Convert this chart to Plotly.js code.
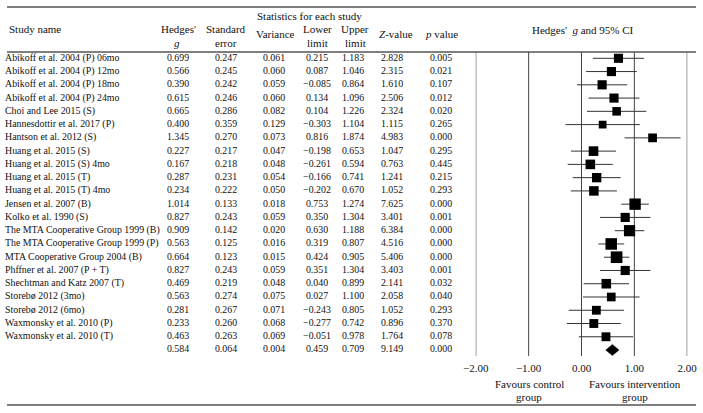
<!DOCTYPE html>
<html><head><meta charset="utf-8">
<script src="https://cdn.plot.ly/plotly-3.0.1.min.js"></script>
<style>html,body{margin:0;padding:0;background:#fff}</style>
</head><body><div id="chart" style="width:703px;height:413px"></div>
<script>
const studies = ["Abikoff et al. 2004 (P) 06mo","Abikoff et al. 2004 (P) 12mo","Abikoff et al. 2004 (P) 18mo","Abikoff et al. 2004 (P) 24mo","Choi and Lee 2015 (S)","Hannesdottir et al. 2017 (P)","Hantson et al. 2012 (S)","Huang et al. 2015 (S)","Huang et al. 2015 (S) 4mo","Huang et al. 2015 (T)","Huang et al. 2015 (T) 4mo","Jensen et al. 2007 (B)","Kolko et al. 1990 (S)","The MTA Cooperative Group 1999 (B)","The MTA Cooperative Group 1999 (P)","MTA Cooperative Group 2004 (B)","Phffner et al. 2007 (P + T)","Shechtman and Katz 2007 (T)","Storebø 2012 (3mo)","Storebø 2012 (6mo)","Waxmonsky et al. 2010 (P)","Waxmonsky et al. 2010 (T)"];
const hedgesG = [0.699,0.566,0.390,0.615,0.665,0.400,1.345,0.227,0.167,0.287,0.234,1.014,0.827,0.909,0.563,0.664,0.827,0.469,0.563,0.281,0.233,0.463];
const stdErr = [0.247,0.245,0.242,0.246,0.286,0.359,0.270,0.217,0.218,0.231,0.222,0.133,0.243,0.142,0.125,0.123,0.243,0.219,0.274,0.267,0.260,0.263];
const variance = [0.061,0.060,0.059,0.060,0.082,0.129,0.073,0.047,0.048,0.054,0.050,0.018,0.059,0.020,0.016,0.015,0.059,0.048,0.075,0.071,0.068,0.069];
const lowerLim = [0.215,0.087,-0.085,0.134,0.104,-0.303,0.816,-0.198,-0.261,-0.166,-0.202,0.753,0.350,0.630,0.319,0.424,0.351,0.040,0.027,-0.243,-0.277,-0.051];
const upperLim = [1.183,1.046,0.864,1.096,1.226,1.104,1.874,0.653,0.594,0.741,0.670,1.274,1.304,1.188,0.807,0.905,1.304,0.899,1.100,0.805,0.742,0.978];
const zValue = [2.828,2.315,1.610,2.506,2.324,1.115,4.983,1.047,0.763,1.241,1.052,7.625,3.401,6.384,4.516,5.406,3.403,2.141,2.058,1.052,0.896,1.764];
const pValue = [0.005,0.021,0.107,0.012,0.020,0.265,0.000,0.295,0.445,0.215,0.293,0.000,0.001,0.000,0.000,0.000,0.001,0.032,0.040,0.293,0.370,0.078];
const summary = {g:0.584, se:0.064, variance:0.004, lower:0.459, upper:0.709, z:9.149, p:0.000};
const axisTicks = [-2,-1,0,1,2];

const FONT = "Liberation Serif, Times New Roman, serif";
const W = 703, H = 413;
const n = studies.length;
const rows = studies.map((_, i) => i);
const sumRow = n;

function fmt(v){ return v.toFixed(3).replace('-', '\u2212'); }

// column centres in pixel units (x2 axis spans 0..703)
const cols = [
  {x:178, vals:hedgesG, s:summary.g},
  {x:226, vals:stdErr, s:summary.se},
  {x:274, vals:variance, s:summary.variance},
  {x:317, vals:lowerLim, s:summary.lower},
  {x:353, vals:upperLim, s:summary.upper},
  {x:392, vals:zValue, s:summary.z},
  {x:441, vals:pValue, s:summary.p}
];

const BODY = 9.9;
const HEAD = 11;
const traces = [];
traces.push({
  type:'scatter', mode:'text', xaxis:'x2', yaxis:'y2',
  x: rows.map(() => 5), y: rows, text: studies,
  textposition:'middle right', cliponaxis:false, hoverinfo:'skip',
  textfont:{family:FONT, size:BODY, color:'#111'}
});
cols.forEach(c => {
  traces.push({
    type:'scatter', mode:'text', xaxis:'x2', yaxis:'y2',
    x: rows.concat([sumRow]).map(() => c.x),
    y: rows.concat([sumRow]),
    text: c.vals.map(fmt).concat([fmt(c.s)]),
    textposition:'middle center', cliponaxis:false, hoverinfo:'skip',
    textfont:{family:FONT, size:BODY, color:'#111'}
  });
});

const tau2 = 0.05;
const sizes = variance.map(v => 5.5 + 0.4 / (v + tau2));

traces.push({
  type:'scatter', mode:'markers', xaxis:'x', yaxis:'y2',
  x: hedgesG, y: rows,
  marker:{symbol:'square', size:sizes, color:'#000', opacity:1, line:{width:0}},
  error_x:{type:'data', symmetric:false,
    array: upperLim.map((u,i) => u - hedgesG[i]),
    arrayminus: lowerLim.map((l,i) => hedgesG[i] - l),
    width:0, thickness:1, color:'#333'},
  hoverinfo:'skip', cliponaxis:false
});
const dh = 0.42;
traces.push({
  type:'scatter', mode:'lines', xaxis:'x', yaxis:'y2',
  x:[summary.lower, summary.g, summary.upper, summary.g, summary.lower],
  y:[sumRow, sumRow - dh, sumRow, sumRow + dh, sumRow],
  fill:'toself', fillcolor:'#000', line:{width:0.5, color:'#000'},
  hoverinfo:'skip', cliponaxis:false
});

const py = p => 1 - p / H;
const px = p => p / W;
const ann = (text, x, y, size, opts) => Object.assign({
  text, x: px(x), y: py(y), xref:'paper', yref:'paper',
  xanchor:'center', yanchor:'middle', showarrow:false,
  font:{family:FONT, size:size||HEAD, color:'#111'}
}, opts||{});

const annotations = [
  ann('Statistics for each study', 309, 15.5),
  ann('Study name', 7, 29, HEAD, {xanchor:'left'}),
  ann("Hedges'", 178, 29),
  ann('<i>g</i>', 177, 43),
  ann('Standard', 226, 29),
  ann('error', 226, 43),
  ann('Variance', 275, 34),
  ann('Lower', 317, 29),
  ann('limit', 317, 43),
  ann('Upper', 355, 29),
  ann('limit', 355, 43),
  ann('<i>Z</i>-value', 396, 34),
  ann('<i>p</i> value', 442, 34),
  ann("Hedges'  <i>g</i> and 95% CI", 583, 30),
  ann('Favours control', 529, 384),
  ann('group', 529, 397),
  ann('Favours intervention', 635, 384),
  ann('group', 635, 397)
];

const hline = (y, x0, x1) => ({type:'line', xref:'paper', yref:'paper',
  x0:px(x0), x1:px(x1), y0:py(y), y1:py(y), line:{color:'#555', width:1.3}});
const vlines = axisTicks.map(t => ({type:'line', xref:'x', yref:'paper',
  x0:t, x1:t, y0:py(356), y1:py(52), line:{color:'#444', width:1}, layer:'below'}));

const layout = {
  width:W, height:H, margin:{l:0,r:0,t:0,b:0},
  paper_bgcolor:'#fff', plot_bgcolor:'rgba(0,0,0,0)',
  showlegend:false, font:{family:FONT, color:'#111'},
  xaxis:{domain:[px(475.7), px(687.3)], range:[-2.002, 2.002], anchor:'y2',
    tickvals:axisTicks, tickformat:'.2f', ticks:'', showgrid:false,
    zeroline:false, showline:false, ticklabelstandoff:4,
    tickfont:{family:FONT, size:HEAD, color:'#111'}, fixedrange:true},
  xaxis2:{domain:[0,1], range:[0,W], anchor:'y2', visible:false, fixedrange:true},
  yaxis2:{domain:[py(356), py(52)], range:[22.45, -0.475], visible:false, fixedrange:true},
  shapes:[hline(7, 7, 696), hline(52, 7, 696), hline(405, 7, 696)].concat(vlines),
  annotations
};

Plotly.newPlot('chart', traces, layout, {staticPlot:true, displayModeBar:false});
</script>
</body></html>
